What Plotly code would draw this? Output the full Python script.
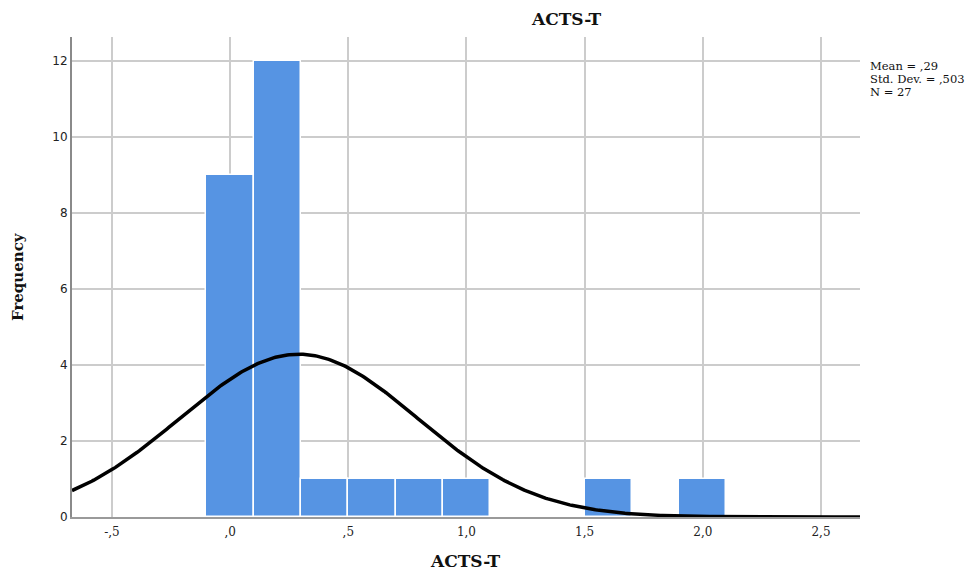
import numpy as np
import plotly.graph_objects as go

bin_centers = [0.0, 0.2, 0.4, 0.6, 0.8, 1.0, 1.6, 2.0]
counts = [9, 12, 1, 1, 1, 1, 1, 1]
bin_width = 0.2
mean_val = 0.29
sd_val = 0.503
n_val = 27
x_tickvals = [-0.5, 0.0, 0.5, 1.0, 1.5, 2.0, 2.5]
x_ticktext = ["-,5", ",0", ",5", "1,0", "1,5", "2,0", "2,5"]
y_tickvals = [0, 2, 4, 6, 8, 10, 12]
stats_lines = ["Mean = ,29", "Std. Dev. = ,503", "N = 27"]

x_range = [-0.669, 2.665]
y_range = [0, 12.63]

xs = np.linspace(x_range[0], x_range[1], 400)
ys = n_val * bin_width * np.exp(-0.5 * ((xs - mean_val) / sd_val) ** 2) / (sd_val * np.sqrt(2 * np.pi))

fig = go.Figure()
fig.add_trace(go.Bar(x=bin_centers, y=counts, width=bin_width,
                     marker=dict(color="#5694E3", line=dict(color="white", width=1.5)),
                     hoverinfo="skip"))
fig.add_trace(go.Scatter(x=xs, y=ys, mode="lines",
                         line=dict(color="black", width=3.5), hoverinfo="skip"))

fig.update_layout(
    width=973, height=571,
    margin=dict(l=72, r=113, t=37, b=54, autoexpand=False),
    paper_bgcolor="white", plot_bgcolor="white",
    showlegend=False,
    font=dict(family="DejaVu Sans", size=12, color="#222"),
    xaxis=dict(range=x_range, tickvals=x_tickvals, ticktext=x_ticktext,
               showgrid=True, gridcolor="#cccccc", gridwidth=1.5,
               showline=True, linecolor="#9a9a9a", linewidth=2,
               zeroline=False, ticks="", ticklen=0, automargin=False,
               ticklabelstandoff=3,
               tickfont=dict(family="DejaVu Serif", size=12, color="#222")),
    yaxis=dict(range=y_range, tickvals=y_tickvals,
               showgrid=True, gridcolor="#cccccc", gridwidth=1.5,
               showline=True, linecolor="#8a8a8a", linewidth=2,
               zeroline=False, ticks="", automargin=False,
               tickfont=dict(family="DejaVu Sans", size=12, color="#222")),
    bargap=0,
)

# chart title
fig.add_annotation(text="<b>ACTS-T</b>", xref="paper", yref="paper",
                   x=0.628, y=1.0, yshift=18, yanchor="middle", showarrow=False,
                   font=dict(family="DejaVu Serif", size=17, color="#111"))
# axis titles
fig.add_annotation(text="<b>ACTS-T</b>", xref="paper", yref="paper",
                   x=0.499, y=0, yshift=-44, yanchor="middle", showarrow=False,
                   font=dict(family="DejaVu Serif", size=17, color="#111"))
fig.add_annotation(text="<b>Frequency</b>", xref="paper", yref="paper",
                   x=0, xshift=-54, y=0.5, xanchor="center", yanchor="middle", textangle=-90,
                   showarrow=False,
                   font=dict(family="DejaVu Serif", size=15, color="#111"))
for i, line in enumerate(stats_lines):
    fig.add_annotation(text=line, xref="paper", yref="paper",
                       x=1.0, xshift=8, y=(517 - 66 - 13 * i) / 480, xanchor="left", yanchor="middle",
                       align="left", showarrow=False,
                       font=dict(family="DejaVu Serif", size=11.5, color="#111"))

fig.write_html("out.html", config={"displayModeBar": False},
               post_script="document.body.style.margin='0px';document.body.style.overflow='hidden';")
